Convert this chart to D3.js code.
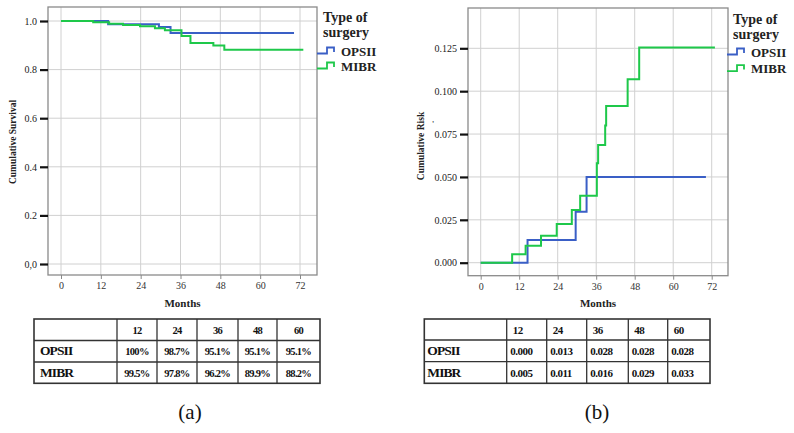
<!DOCTYPE html>
<html><head><meta charset="utf-8">
<script src="https://cdn.jsdelivr.net/npm/d3@7"></script>
<style>
html,body{margin:0;padding:0;background:#fff;}
svg{display:block;}
text{font-family:"Liberation Serif","Times New Roman",serif;}
</style></head>
<body>
<svg id="c" width="794" height="433"></svg>
<script>
// ---------- data ----------
const monthTicks = [0, 12, 24, 36, 48, 60, 72];
const survTicks = [0, 0.2, 0.4, 0.6, 0.8, 1.0];
const survTickLabels = ["0,0", "0.2", "0.4", "0.6", "0.8", "1.0"];
const riskTicks = [0, 0.025, 0.05, 0.075, 0.1, 0.125];
const riskTickLabels = ["0.000", "0.025", "0.050", "0.075", "0.100", "0.125"];
const seriesNames = ["OPSII", "MIBR"];

const survOpsiiT = [0, 14.2, 29.5, 33, 70.2];
const survOpsiiV = [1, 0.987, 0.975, 0.951, 0.951];
const survMibrT = [0, 9.7, 14.5, 18.7, 23.8, 28.3, 31.3, 36.3, 39, 45.9, 49.2, 73];
const survMibrV = [1, 0.995, 0.989, 0.984, 0.978, 0.970, 0.962, 0.938, 0.909, 0.899, 0.882, 0.882];

const riskOpsiiT = [0, 14.6, 29.6, 33, 70.2];
const riskOpsiiV = [0, 0.0132, 0.0297, 0.050, 0.050];
const riskMibrT = [0, 9.8, 14, 18.8, 23.7, 28.4, 31, 36.2, 36.6, 38.8, 39.1, 45.8, 49.4, 73];
const riskMibrV = [0, 0.0049, 0.0099, 0.0157, 0.0225, 0.0307, 0.039, 0.058, 0.0686, 0.080, 0.0913, 0.107, 0.1255, 0.1255];

const tableCols = ["12", "24", "36", "48", "60"];
const survTableOpsii = ["100%", "98.7%", "95.1%", "95.1%", "95.1%"];
const survTableMibr = ["99.5%", "97.8%", "96.2%", "89.9%", "88.2%"];
const riskTableOpsii = ["0.000", "0.013", "0.028", "0.028", "0.028"];
const riskTableMibr = ["0.005", "0.011", "0.016", "0.029", "0.033"];

// ---------- styles ----------
const colors = {OPSII: "#3a5fc6", MIBR: "#1ec84a"};
const svg = d3.select("#c");

function panel(cfg) {
  const g = svg.append("g");
  const x = d3.scaleLinear().domain([0, 72]).range(cfg.xr);
  const y = d3.scaleLinear().domain(cfg.yd).range(cfg.yr);
  const f = cfg.frame; // [l,t,r,b]
  // grid
  g.append("g").selectAll("line").data(monthTicks).join("line")
    .attr("x1", d => x(d)).attr("x2", d => x(d)).attr("y1", f[1]).attr("y2", f[3])
    .attr("stroke", "#d0d0d0").attr("stroke-width", 1);
  g.append("g").selectAll("line").data(cfg.yt).join("line")
    .attr("x1", f[0]).attr("x2", f[2]).attr("y1", d => y(d)).attr("y2", d => y(d))
    .attr("stroke", "#d0d0d0").attr("stroke-width", 1);
  // frame
  g.append("rect").attr("x", f[0]).attr("y", f[1]).attr("width", f[2] - f[0]).attr("height", f[3] - f[1])
    .attr("fill", "none").attr("stroke", "#8a8a8a").attr("stroke-width", 1.3);
  // y axis ticks
  const yAxis = d3.axisLeft(y).tickValues(cfg.yt).tickFormat((d, i) => cfg.ytl[i]).tickSize(8).tickPadding(3);
  const ya = g.append("g").attr("transform", `translate(${f[0]},0)`).call(yAxis);
  ya.select(".domain").remove();
  ya.selectAll(".tick line").attr("stroke", "#111").attr("stroke-width", 2.2);
  ya.selectAll(".tick text").attr("font-family", "Liberation Serif").attr("font-size", 10).attr("fill", "#222");
  // x axis
  const xAxis = d3.axisBottom(x).tickValues(monthTicks).tickSize(4).tickPadding(3);
  const xa = g.append("g").attr("transform", `translate(0,${f[3]})`).call(xAxis);
  xa.select(".domain").remove();
  xa.selectAll(".tick line").attr("stroke", "#888").attr("stroke-width", 1);
  xa.selectAll(".tick text").attr("font-family", "Liberation Serif").attr("font-size", 10).attr("fill", "#333");
  // labels
  g.append("text").attr("x", (f[0] + f[2]) / 2).attr("y", 306.5).attr("text-anchor", "middle")
    .attr("font-weight", "bold").attr("font-size", 11).attr("fill", "#222").text("Months");
  g.append("text").attr("transform", `translate(${cfg.ylx},${cfg.yly}) rotate(-90)`).attr("text-anchor", "middle")
    .attr("font-weight", "bold").attr("font-size", 9.5).attr("fill", "#222").text(cfg.ylabel);
  // lines
  const line = d3.line().x(d => x(d[0])).y(d => y(d[1])).curve(d3.curveStepAfter);
  cfg.series.forEach(s => {
    g.append("path").datum(d3.zip(s.t, s.v)).attr("d", line)
      .attr("fill", "none").attr("stroke", colors[s.name]).attr("stroke-width", 2);
  });
  // legend
  const L = cfg.legend;
  g.append("text").attr("x", L.x + 6).attr("y", L.y).attr("font-weight", "bold").attr("font-size", 14).attr("fill", "#222").text("Type of");
  g.append("text").attr("x", L.x + 6).attr("y", L.y + 15).attr("font-weight", "bold").attr("font-size", 14).attr("fill", "#222").text("surgery");
  seriesNames.forEach((n, i) => {
    const yy = L.y + L.off + i * L.gap;
    const x0 = L.x, x1 = L.x + 17;
    g.append("path").attr("d", `M${x0},${yy + 2.5}H${x0 + 10}V${yy - 3.5}H${x1}V${yy + 1}`)
      .attr("fill", "none").attr("stroke", colors[n]).attr("stroke-width", 1.8);
    g.append("text").attr("x", L.x + 24).attr("y", yy + 4.5).attr("font-weight", "bold").attr("font-size", 13).attr("fill", "#222").text(n);
  });
  // table
  const T = cfg.table;
  const tg = g.append("g");
  const colX = T.cols;
  const rowY = T.rows;
  tg.append("rect").attr("x", colX[0]).attr("y", rowY[0]).attr("width", colX[colX.length - 1] - colX[0]).attr("height", rowY[rowY.length - 1] - rowY[0])
    .attr("fill", "none").attr("stroke", "#333").attr("stroke-width", 1.6);
  tg.append("g").selectAll("line").data(colX.slice(1, -1)).join("line")
    .attr("x1", d => d).attr("x2", d => d).attr("y1", rowY[0]).attr("y2", rowY[rowY.length - 1]).attr("stroke", "#333").attr("stroke-width", 1.3);
  tg.append("g").selectAll("line").data(rowY.slice(1, -1)).join("line")
    .attr("x1", colX[0]).attr("x2", colX[colX.length - 1]).attr("y1", d => d).attr("y2", d => d).attr("stroke", "#333").attr("stroke-width", 1.3);
  const rows = [["", ...tableCols], [seriesNames[0], ...T.r1], [seriesNames[1], ...T.r2]];
  rows.forEach((r, ri) => {
    const cy = (rowY[ri] + rowY[ri + 1]) / 2 + 4;
    r.forEach((txt, ci) => {
      if (!txt) return;
      const t = tg.append("text").attr("y", cy).attr("font-weight", "bold").attr("fill", "#111");
      if (ci === 0) {
        t.attr("x", colX[0] + T.lpad).attr("font-size", 13.5).attr("letter-spacing", -0.9).text(txt);
      } else if (T.center) {
        t.attr("x", (colX[ci] + colX[ci + 1]) / 2).attr("text-anchor", "middle").attr("font-size", 10.5).attr("letter-spacing", -0.7).text(txt);
      } else {
        t.attr("x", colX[ci] + (ri === 0 ? 6 : 3.5)).attr("font-size", 11).attr("letter-spacing", -0.5).text(txt);
      }
    });
  });
  // caption
  g.append("text").attr("x", cfg.capx).attr("y", 419).attr("text-anchor", "middle").attr("font-size", 21).attr("fill", "#111").text(cfg.cap);
  return g;
}

panel({
  xr: [61, 300], yd: [0, 1], yr: [264, 21], frame: [48, 7, 317, 275],
  yt: survTicks, ytl: survTickLabels, ylabel: "Cumulative Survival", ylx: 16, yly: 142,
  series: [{name: "OPSII", t: survOpsiiT, v: survOpsiiV}, {name: "MIBR", t: survMibrT, v: survMibrV}],
  legend: {x: 317, y: 22, off: 29, gap: 15},
  table: {cols: [34, 117, 157, 197, 238, 277, 320], rows: [319, 340.5, 362, 383.3], r1: survTableOpsii, r2: survTableMibr, center: true, lpad: 6},
  capx: 190, cap: "(a)"
});

const pb = panel({
  xr: [480.7, 711.7], yd: [0, 0.125], yr: [262.7, 48.3], frame: [468, 8, 728, 275.7],
  yt: riskTicks, ytl: riskTickLabels, ylabel: "Cumulative Risk", ylx: 424, yly: 146,
  series: [{name: "OPSII", t: riskOpsiiT, v: riskOpsiiV}, {name: "MIBR", t: riskMibrT, v: riskMibrV}],
  legend: {x: 727, y: 24, off: 28, gap: 16.6},
  table: {cols: [424.3, 506.7, 546.7, 586.7, 628.3, 667.7, 710], rows: [319, 340, 361.7, 383.3], r1: riskTableOpsii, r2: riskTableMibr, center: false, lpad: 3},
  capx: 597, cap: "(b)"
});
pb.append("text").attr("x", 432).attr("y", 127).attr("font-size", 8).attr("font-weight", "bold").attr("fill", "#444").text("'");
</script>
</body></html>
